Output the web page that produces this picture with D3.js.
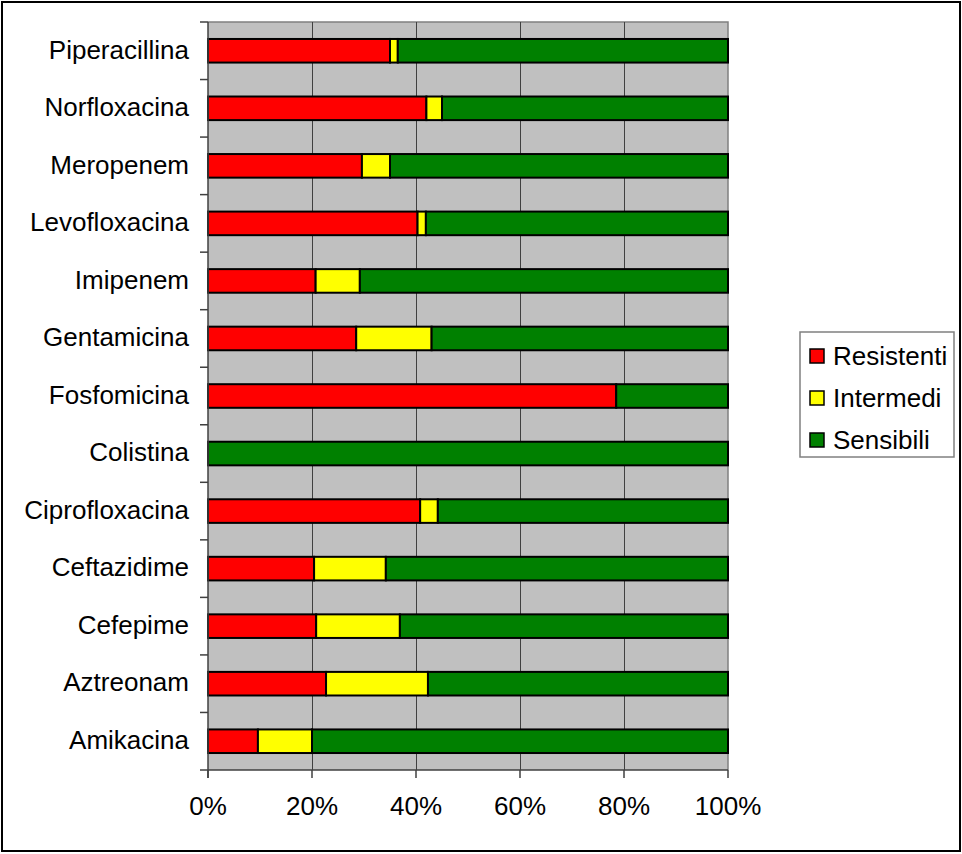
<!DOCTYPE html>
<html>
<head>
<meta charset="utf-8">
<script src="https://cdn.jsdelivr.net/npm/d3@7"></script>
<style>
  html, body { margin: 0; padding: 0; background: #fff; }
  svg { display: block; font-family: "Liberation Sans", Arial, sans-serif; }
</style>
</head>
<body>
<svg id="chart" width="962" height="854"></svg>
<script>
// Categories listed bottom-to-top (as in the source chart)
const categories = ["Amikacina", "Aztreonam", "Cefepime", "Ceftazidime", "Ciprofloxacina",
  "Colistina", "Fosfomicina", "Gentamicina", "Imipenem", "Levofloxacina",
  "Meropenem", "Norfloxacina", "Piperacillina"];
const resistenti = [9.6, 22.7, 20.8, 20.4, 40.8, 0, 78.5, 28.5, 20.7, 40.3, 29.6, 42.0, 35.0];
const intermedi  = [10.4, 19.6, 16.1, 13.8, 3.4, 0, 0, 14.5, 8.5, 1.6, 5.4, 3.0, 1.5];
const sensibili  = [80.0, 57.7, 63.1, 65.8, 55.8, 100, 21.5, 57.0, 70.8, 58.1, 65.0, 55.0, 63.5];
const seriesNames = ["Resistenti", "Intermedi", "Sensibili"];
const seriesColors = ["#FF0000", "#FFFF00", "#008000"];
const xTicks = [0, 0.2, 0.4, 0.6, 0.8, 1.0];

const svg = d3.select("#chart");
const FS = 26;

// outer frame
svg.append("rect").attr("x", 2).attr("y", 2).attr("width", 958).attr("height", 849)
  .attr("fill", "#fff").attr("stroke", "#000").attr("stroke-width", 2);

const plot = { left: 208, right: 728, top: 22, bottom: 770 };

const rows = categories.map((c, i) => {
  const tot = resistenti[i] + intermedi[i] + sensibili[i];
  return { cat: c, Resistenti: resistenti[i] / tot, Intermedi: intermedi[i] / tot, Sensibili: sensibili[i] / tot };
});

const x = d3.scaleLinear().domain([0, 1]).range([plot.left, plot.right]);
const y = d3.scaleBand().domain(categories.slice().reverse())
  .range([plot.top, plot.bottom]).paddingInner(0.59).paddingOuter(0.295);
const yFull = d3.scaleBand().domain(categories.slice().reverse())
  .range([plot.top, plot.bottom]).padding(0);

// plot background
svg.append("rect").attr("x", plot.left).attr("y", plot.top)
  .attr("width", plot.right - plot.left).attr("height", plot.bottom - plot.top)
  .attr("fill", "#C0C0C0");

// top/right border of plot area
svg.append("path")
  .attr("d", `M${plot.left},${plot.top}H${plot.right}V${plot.bottom}`)
  .attr("fill", "none").attr("stroke", "#808080").attr("stroke-width", 1.5);

// gridlines
svg.append("g").selectAll("line").data(xTicks.slice(1, -1)).join("line")
  .attr("x1", d => Math.round(x(d)) + 0.5).attr("x2", d => Math.round(x(d)) + 0.5)
  .attr("y1", plot.top).attr("y2", plot.bottom)
  .attr("stroke", "#404040").attr("stroke-width", 1);

// stacked bars
const stack = d3.stack().keys(seriesNames);
const stacked = stack(rows);
svg.append("g").selectAll("g").data(stacked).join("g")
  .attr("fill", (d, i) => seriesColors[i])
  .selectAll("rect").data(d => d.filter(s => s[1] - s[0] > 0)).join("rect")
  .attr("x", d => x(d[0]))
  .attr("width", d => x(d[1]) - x(d[0]))
  .attr("y", d => y(d.data.cat))
  .attr("height", y.bandwidth())
  .attr("stroke", "#000").attr("stroke-width", 2);

// y axis
const yAxis = svg.append("g").attr("transform", `translate(${plot.left},0)`);
yAxis.append("line").attr("x1", 0).attr("x2", 0).attr("y1", plot.top).attr("y2", plot.bottom + 8)
  .attr("stroke", "#404040").attr("stroke-width", 1.5);
const bounds = categories.slice().reverse().map(c => yFull(c)).concat([plot.bottom]);
yAxis.selectAll("line.tick").data(bounds).join("line").attr("class", "tick")
  .attr("x1", -8).attr("x2", 0).attr("y1", d => d).attr("y2", d => d)
  .attr("stroke", "#404040").attr("stroke-width", 1.5);
yAxis.selectAll("text").data(categories).join("text")
  .attr("x", -19).attr("y", d => yFull(d) + yFull.bandwidth() / 2)
  .attr("dy", "0.3em").attr("text-anchor", "end")
  .attr("font-size", FS).attr("fill", "#000").text(d => d);

// x axis
const xAxis = svg.append("g").attr("transform", `translate(0,${plot.bottom})`);
xAxis.append("line").attr("x1", plot.left).attr("x2", plot.right).attr("y1", 0).attr("y2", 0)
  .attr("stroke", "#404040").attr("stroke-width", 1.5);
xAxis.selectAll("line.tick").data(xTicks).join("line").attr("class", "tick")
  .attr("x1", d => x(d)).attr("x2", d => x(d)).attr("y1", 0).attr("y2", 8)
  .attr("stroke", "#404040").attr("stroke-width", 1.5);
xAxis.selectAll("text").data(xTicks).join("text")
  .attr("x", d => x(d)).attr("y", 45).attr("text-anchor", "middle")
  .attr("font-size", FS).attr("fill", "#000").text(d => d3.format(".0%")(d));

// legend
const legend = svg.append("g");
legend.append("rect").attr("x", 800).attr("y", 332).attr("width", 154).attr("height", 125)
  .attr("fill", "#fff").attr("stroke", "#808080").attr("stroke-width", 1.5);
const li = legend.selectAll("g").data(seriesNames).join("g")
  .attr("transform", (d, i) => `translate(810,${349 + i * 42})`);
li.append("rect").attr("width", 14).attr("height", 14)
  .attr("fill", (d, i) => seriesColors[i]).attr("stroke", "#000").attr("stroke-width", 1.5);
li.append("text").attr("x", 23).attr("y", 7).attr("dy", "0.33em")
  .attr("font-size", FS).attr("fill", "#000").text(d => d);
</script>
</body>
</html>
